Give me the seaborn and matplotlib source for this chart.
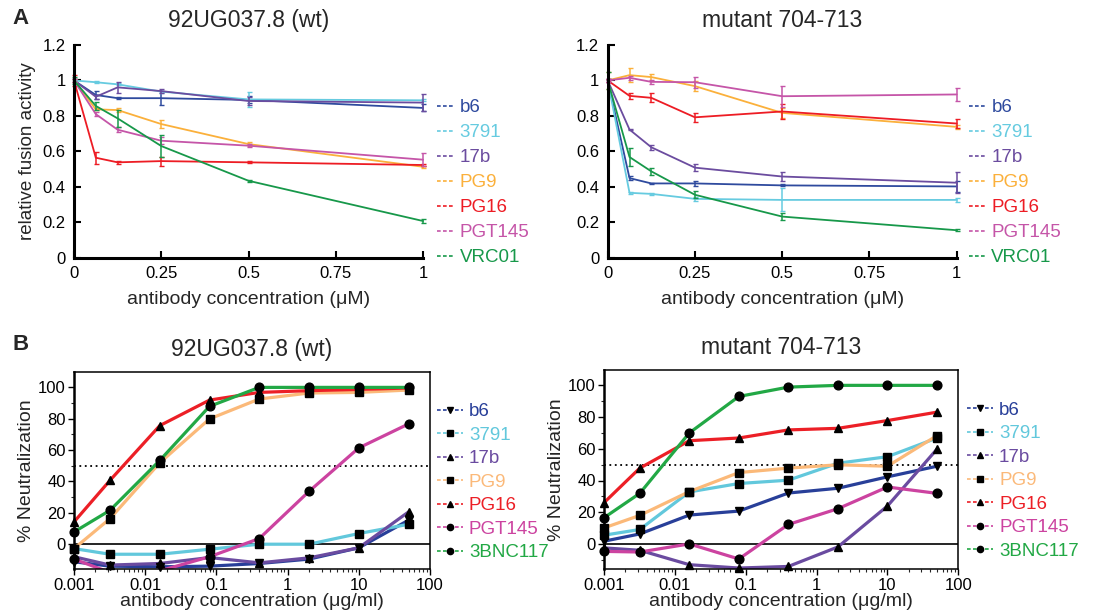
import numpy as np
import pandas as pd
import matplotlib
matplotlib.use("Agg")
import matplotlib.pyplot as plt
from matplotlib.lines import Line2D
from matplotlib.ticker import FixedLocator, MultipleLocator, NullFormatter
import seaborn as sns

sns.set_theme(style="white")
plt.rcParams['font.family'] = ['Liberation Sans', 'DejaVu Sans']

# ---------------- data ----------------
conc_A = [0, 0.0625, 0.125, 0.25, 0.5, 1]
names_A = ["b6", "3791", "17b", "PG9", "PG16", "PGT145", "VRC01"]
colors_A = ["#2e4a9e", "#66cbe0", "#6b4c9f", "#fbb03b", "#ed1c24", "#c555a8", "#17984a"]

wt_A = {
    "b6":     [1.0, 0.918, 0.90, 0.90, 0.89, 0.845],
    "3791":   [1.0, 0.99, 0.978, 0.937, 0.893, 0.888],
    "17b":    [1.0, 0.908, 0.961, 0.94, 0.884, 0.875],
    "PG9":    [1.0, 0.837, 0.833, 0.754, 0.641, 0.513],
    "PG16":   [1.0, 0.564, 0.538, 0.545, 0.538, 0.523],
    "PGT145": [1.0, 0.81, 0.722, 0.66, 0.632, 0.553],
    "VRC01":  [1.0, 0.856, 0.786, 0.63, 0.434, 0.207],
}
wt_A_err = {
    "b6":     [0.01, 0.02, 0.005, 0.04, 0.02, 0.02],
    "3791":   [0.01, 0.005, 0.005, 0.005, 0.04, 0.005],
    "17b":    [0.01, 0.01, 0.03, 0.01, 0.02, 0.05],
    "PG9":    [0.01, 0.005, 0.01, 0.025, 0.01, 0.005],
    "PG16":   [0.03, 0.035, 0.01, 0.025, 0.005, 0.005],
    "PGT145": [0.01, 0.01, 0.015, 0.02, 0.01, 0.035],
    "VRC01":  [0.02, 0.025, 0.05, 0.06, 0.005, 0.01],
}
mut_A = {
    "b6":     [1.0, 0.449, 0.419, 0.419, 0.408, 0.402],
    "3791":   [1.0, 0.366, 0.36, 0.332, 0.326, 0.326],
    "17b":    [1.0, 0.723, 0.623, 0.508, 0.458, 0.423],
    "PG9":    [1.0, 1.03, 1.019, 0.968, 0.817, 0.738],
    "PG16":   [1.0, 0.913, 0.902, 0.792, 0.825, 0.757],
    "PGT145": [1.0, 1.015, 0.992, 0.99, 0.911, 0.921],
    "VRC01":  [1.0, 0.568, 0.487, 0.355, 0.232, 0.155],
}
mut_A_err = {
    "b6":     [0.01, 0.01, 0.005, 0.015, 0.005, 0.03],
    "3791":   [0.01, 0.005, 0.005, 0.01, 0.065, 0.01],
    "17b":    [0.01, 0.005, 0.015, 0.02, 0.025, 0.06],
    "PG9":    [0.05, 0.04, 0.02, 0.03, 0.03, 0.01],
    "PG16":   [0.01, 0.015, 0.025, 0.025, 0.04, 0.025],
    "PGT145": [0.01, 0.01, 0.01, 0.03, 0.06, 0.035],
    "VRC01":  [0.05, 0.05, 0.02, 0.02, 0.02, 0.005],
}

conc_B = [0.001, 0.0032, 0.016, 0.08, 0.4, 2, 10, 50]
names_B = ["b6", "3791", "17b", "PG9", "PG16", "PGT145", "3BNC117"]
colors_B = ["#283f99", "#62c8dc", "#6a4ba0", "#fbb979", "#ec1f26", "#cc43a0", "#22a845"]
markers_B = ["v", "s", "^", "s", "^", "o", "o"]

wt_B = {
    "b6":      [-11.2, -14.0, -14.4, -14.0, -12.3, -9.5, -2.3, 15.3],
    "3791":    [-2.8, -6.4, -6.4, -3.2, 0.0, 0.0, 6.8, 12.7],
    "17b":     [-8.0, -13.3, -12.3, -8.5, -11.9, -8.7, -2.3, 20.6],
    "PG9":     [-2.8, 16.3, 51.9, 79.9, 92.6, 96.4, 96.8, 98.3],
    "PG16":    [14.2, 40.7, 75.6, 91.9, 96.8, 97.9, 98.7, 99.6],
    "PGT145":  [-9.5, -18.0, -17.0, -8.0, 3.6, 33.7, 61.4, 76.7],
    "3BNC117": [7.8, 21.6, 53.4, 87.9, 100.0, 100.0, 100.0, 100.0],
}
mut_B = {
    "b6":      [1.7, 6.3, 18.2, 20.7, 32.1, 35.1, 42.3, 49.0],
    "3791":    [5.5, 9.1, 32.8, 38.1, 40.2, 50.9, 55.0, 66.8],
    "17b":     [-2.5, -4.0, -13.1, -15.2, -14.2, -1.9, 23.9, 59.8],
    "PG9":     [10.1, 18.0, 33.0, 45.0, 47.8, 49.9, 49.0, 68.3],
    "PG16":    [26.0, 47.8, 65.1, 66.8, 71.9, 72.9, 77.8, 83.1],
    "PGT145":  [-4.7, -5.1, 0.0, -9.5, 12.3, 22.2, 35.9, 31.9],
    "3BNC117": [16.5, 31.9, 70.0, 93.0, 98.9, 100.0, 100.0, 100.0],
}

titles = ["92UG037.8 (wt)", "mutant 704-713"]

# ---------------- figure ----------------
fig = plt.figure(figsize=(10.96, 6.14), dpi=100)
W, H = 1096, 614

def add_ax(l, t, r, b):
    return fig.add_axes([l / W, 1 - b / H, (r - l) / W, (b - t) / H])

axA = [add_ax(74, 45, 423, 257.7), add_ax(607.7, 45, 956.7, 257.7)]
axB = [add_ax(74, 371.7, 430, 569.3), add_ax(604, 369.5, 958.3, 569.3)]

FS_TICK = 12
FS_LAB = 14
FS_TITLE = 16.5
FS_LEG = 13.5

for i, (ax, data, err) in enumerate(zip(axA, [wt_A, mut_A], [wt_A_err, mut_A_err])):
    for name, col in zip(names_A, colors_A):
        df = pd.DataFrame({"x": conc_A, "y": data[name]})
        sns.lineplot(data=df, x="x", y="y", ax=ax, color=col, linewidth=1.3,
                     legend=False, clip_on=False)
        ax.errorbar(conc_A, data[name], yerr=err[name], fmt="none", ecolor=col,
                    elinewidth=1.1, capsize=1.8, capthick=1.0, clip_on=False)
    ax.set_xlim(0, 1)
    ax.set_ylim(0, 1.2)
    ax.set_xticks([0, 0.25, 0.5, 0.75, 1])
    ax.set_xticklabels(["0", "0.25", "0.5", "0.75", "1"])
    ax.set_yticks([0, 0.2, 0.4, 0.6, 0.8, 1.0, 1.2])
    ax.set_yticklabels(["0", "0.2", "0.4", "0.6", "0.8", "1", "1.2"])
    for s in ["top", "right"]:
        ax.spines[s].set_visible(False)
    for s in ["left", "bottom"]:
        ax.spines[s].set_linewidth(2.2)
        ax.spines[s].set_color("black")
    ax.tick_params(direction="in", length=5, width=1.5, labelsize=FS_TICK,
                   colors="black", pad=6, left=True, bottom=True)
    ax.set_xlabel("antibody concentration (\u03bcM)", fontsize=FS_LAB, labelpad=7)
    ax.set_ylabel("relative fusion activity" if i == 0 else "", fontsize=13.5, labelpad=5)
    ax.set_title(titles[i], fontsize=FS_TITLE, pad=13)
    handles = [Line2D([], [], color=c, linestyle=(0, (2.2, 1.4)), linewidth=1.2)
               for c in colors_A]
    leg = ax.legend(handles, names_A, loc="upper left",
                    bbox_to_anchor=(1.04 if i == 0 else 1.035, 0.745),
                    frameon=False, fontsize=FS_LEG, handlelength=0.9,
                    handletextpad=0.3, labelspacing=0.42, borderaxespad=0,
                    borderpad=0, labelcolor="linecolor")

for i, (ax, data) in enumerate(zip(axB, [wt_B, mut_B])):
    ax.set_xscale("log")
    ax.set_xlim(0.001, 100)
    ax.set_ylim(-16, 110)
    ax.axhline(0, color="black", linewidth=1.2, zorder=1)
    ax.axhline(50, color="black", linewidth=1.3, linestyle=(0, (1, 2)), zorder=1)
    for name, col, mk in zip(names_B, colors_B, markers_B):
        df = pd.DataFrame({"x": conc_B, "y": data[name]})
        sns.lineplot(data=df, x="x", y="y", ax=ax, color=col, linewidth=2.3,
                     legend=False, zorder=2)
        xs = [x for x, y in zip(conc_B, data[name]) if y >= -16]
        ys = [y for y in data[name] if y >= -16]
        ax.plot(xs, ys, linestyle="none", marker=mk, markersize=6.3,
                markerfacecolor="black", markeredgecolor="black",
                clip_on=False, zorder=3)
    ax.set_yticks([0, 20, 40, 60, 80, 100])
    ax.yaxis.set_minor_locator(FixedLocator([-10, 10, 30, 50, 70, 90]))
    ax.set_xticks([0.001, 0.01, 0.1, 1, 10, 100])
    ax.set_xticklabels(["0.001", "0.01", "0.1", "1", "10", "100"])
    ax.xaxis.set_minor_formatter(NullFormatter())
    for s in ax.spines.values():
        s.set_linewidth(1.1)
        s.set_color("black")
    ax.spines["left"].set_linewidth(1.8)
    ax.tick_params(which="major", direction="out", length=4, width=1.0,
                   labelsize=FS_TICK, colors="black", pad=2,
                   left=True, bottom=True)
    ax.tick_params(which="minor", direction="out", length=2.5, width=0.8,
                   left=True, bottom=True)
    ax.set_xlabel("antibody concentration (\u03bcg/ml)", fontsize=FS_LAB, labelpad=0)
    ax.set_ylabel("% Neutralization", fontsize=FS_LAB, labelpad=2)
    ax.set_title(titles[i], fontsize=FS_TITLE, pad=11)
    handles = [Line2D([], [], color=c, linestyle=(0, (2.2, 1.4)), linewidth=1.2,
                      marker=m, markersize=4.5, markerfacecolor="black",
                      markeredgecolor="black")
               for c, m in zip(colors_B, markers_B)]
    ax.legend(handles, names_B, loc="upper left",
              bbox_to_anchor=(1.02 if i == 0 else 1.025, 0.84),
              frameon=False, fontsize=FS_LEG, handlelength=1.4,
              handletextpad=0.3, labelspacing=0.34, borderaxespad=0,
              borderpad=0, labelcolor="linecolor")

fig.text(12 / W, 1 - 18 / H, "A", fontsize=16, fontweight="bold", va="center", ha="left")
fig.text(12 / W, 1 - 345 / H, "B", fontsize=16, fontweight="bold", va="center", ha="left")

fig.savefig("out.png", dpi=100)
